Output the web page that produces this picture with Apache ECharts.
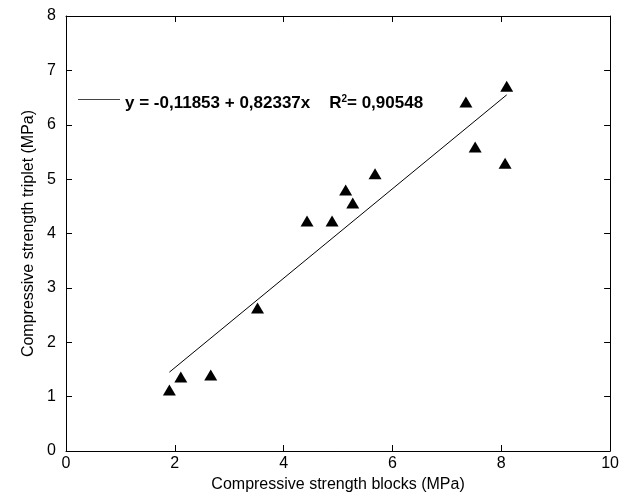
<!DOCTYPE html>
<html>
<head>
<meta charset="utf-8">
<script src="https://cdn.jsdelivr.net/npm/echarts@6/dist/echarts.min.js"></script>
<style>html,body{margin:0;padding:0;background:#fff;}#c{width:622px;height:499px;}</style>
</head>
<body>
<div id="c"></div>
<script>
// Data
const blocks  = [1.90, 2.11, 2.66, 3.52, 4.43, 4.89, 5.14, 5.27, 5.68, 7.35, 7.52, 8.07, 8.10];
const triplet = [1.12, 1.36, 1.40, 2.63, 4.23, 4.23, 4.80, 4.56, 5.10, 6.42, 5.59, 5.29, 6.71];
const fitX = [1.90, 8.10];
const fitY = [1.45, 6.55];
const fitLabel = 'y = -0,11853 + 0,82337x    R2= 0,90548';
const xTitle = 'Compressive strength blocks (MPa)';
const yTitle = 'Compressive strength triplet (MPa)';

const FONT = 'Liberation Sans, Arial, sans-serif';
const chart = echarts.init(document.getElementById('c'), null, {renderer: 'canvas'});

const baseAxis = {
  axisLine: {show: true, onZero: false, lineStyle: {color: '#000', width: 1}},
  axisTick: {show: true, inside: true, length: 6, lineStyle: {color: '#000', width: 1}},
  splitLine: {show: false},
  axisLabel: {color: '#000', fontSize: 16, fontFamily: FONT}
};

chart.setOption({
  backgroundColor: '#fff',
  animation: false,
  grid: {left: 66, right: 11, top: 16, bottom: 48, containLabel: false},
  legend: {
    left: 73, top: 89,
    itemWidth: 42, itemHeight: 14,
    itemGap: 0,
    data: [{name: fitLabel, icon: 'path://M0,0 L40,0 L40,1 L0,1 Z'}],
    itemStyle: {color: '#444'},
    formatter: function () {
      return '{b|y = -0,11853 + 0,82337x    R}{s|2}{b|= 0,90548}';
    },
    textStyle: {
      color: '#000', fontFamily: FONT, fontWeight: 'bold', fontSize: 17,
      padding: [8, 0, 0, 0],
      rich: {
        b: {fontFamily: FONT, fontWeight: 'bold', fontSize: 17, color: '#000', lineHeight: 19},
        s: {fontFamily: FONT, fontWeight: 'bold', fontSize: 10, color: '#000', lineHeight: 12, verticalAlign: 'top'}
      }
    }
  },
  xAxis: [
    Object.assign({}, baseAxis, {
      type: 'value', min: 0, max: 10, interval: 2, position: 'bottom',
      name: xTitle, nameLocation: 'middle', nameGap: 24,
      nameTextStyle: {color: '#000', fontSize: 16, fontFamily: FONT},
      axisLabel: Object.assign({}, baseAxis.axisLabel, {margin: 5})
    }),
    Object.assign({}, baseAxis, {
      type: 'value', min: 0, max: 10, interval: 2, position: 'top',
      axisLabel: {show: false}
    })
  ],
  yAxis: [
    Object.assign({}, baseAxis, {
      type: 'value', min: 0, max: 8, interval: 1, position: 'left',
      name: yTitle, nameLocation: 'middle', nameGap: 26,
      nameTextStyle: {color: '#000', fontSize: 16, fontFamily: FONT},
      axisLabel: Object.assign({}, baseAxis.axisLabel, {margin: 10})
    }),
    Object.assign({}, baseAxis, {
      type: 'value', min: 0, max: 8, interval: 1, position: 'right',
      axisLabel: {show: false}
    })
  ],
  series: [
    {
      name: 'points', type: 'scatter', xAxisIndex: 0, yAxisIndex: 0,
      symbol: 'triangle', symbolSize: [13, 11],
      itemStyle: {color: '#000', opacity: 1},
      data: blocks.map((x, i) => [x, triplet[i]])
    },
    {
      name: fitLabel, type: 'line', xAxisIndex: 0, yAxisIndex: 0,
      symbol: 'none', lineStyle: {color: '#000', width: 1},
      itemStyle: {color: '#444'},
      data: fitX.map((x, i) => [x, fitY[i]])
    }
  ]
});
</script>
</body>
</html>
